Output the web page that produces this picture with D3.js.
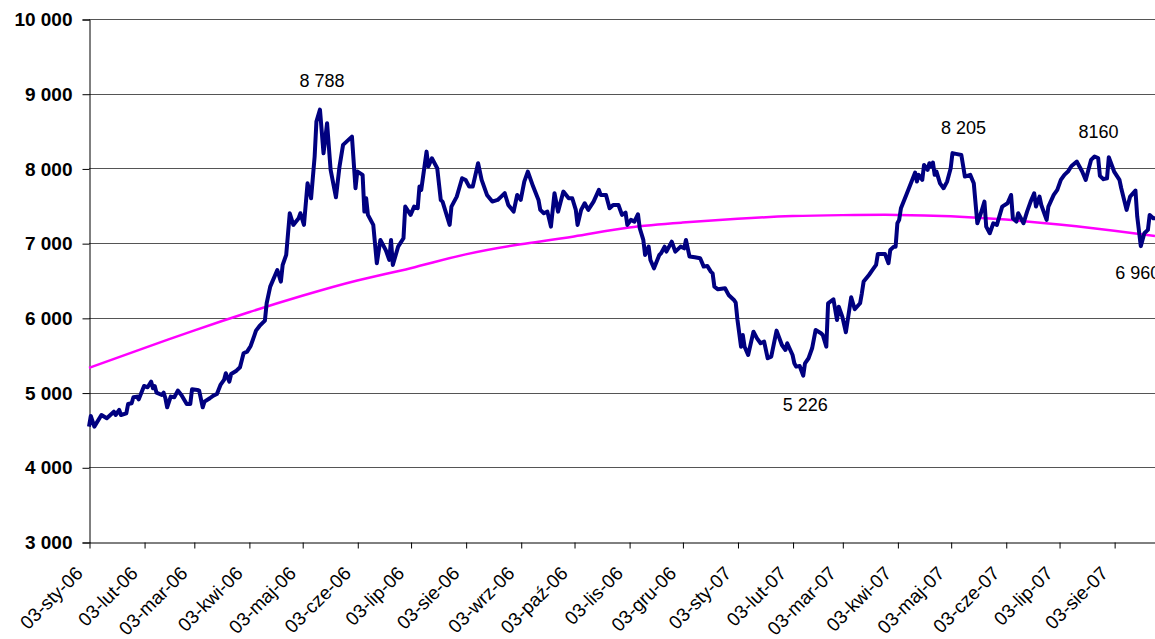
<!DOCTYPE html>
<html><head><meta charset="utf-8">
<script src="https://cdn.jsdelivr.net/npm/d3@7"></script>
<style>
html,body{margin:0;padding:0;background:#fff;}
svg{display:block;font-family:"Liberation Sans",Arial,sans-serif;}
</style></head>
<body>
<svg id="chart" width="1155" height="639"></svg>
<script>
// ---------- DATA ----------
const tickDates = ["2006-01-03","2006-02-03","2006-03-03","2006-04-03","2006-05-03","2006-06-03","2006-07-03","2006-08-03","2006-09-03","2006-10-03","2006-11-03","2006-12-03","2007-01-03","2007-02-03","2007-03-03","2007-04-03","2007-05-03","2007-06-03","2007-07-03","2007-08-03"];
const tickLabels = ["03-sty-06","03-lut-06","03-mar-06","03-kwi-06","03-maj-06","03-cze-06","03-lip-06","03-sie-06","03-wrz-06","03-paź-06","03-lis-06","03-gru-06","03-sty-07","03-lut-07","03-mar-07","03-kwi-07","03-maj-07","03-cze-07","03-lip-07","03-sie-07"];
const yTicks = [3000,4000,5000,6000,7000,8000,9000,10000];
const xDomain = ["2006-01-03","2007-08-26"];

const indexDates = ["2006-01-03","2006-01-04","2006-01-06","2006-01-10","2006-01-13","2006-01-17","2006-01-18","2006-01-20","2006-01-21","2006-01-24","2006-01-25","2006-01-27","2006-01-28","2006-01-30","2006-01-31",
"2006-02-03","2006-02-05","2006-02-07","2006-02-08","2006-02-09","2006-02-10","2006-02-13","2006-02-14","2006-02-15","2006-02-16","2006-02-18","2006-02-20","2006-02-22","2006-02-24","2006-02-27",
"2006-03-01","2006-03-02","2006-03-05","2006-03-06","2006-03-08","2006-03-09","2006-03-12","2006-03-14","2006-03-16","2006-03-18","2006-03-20","2006-03-21","2006-03-23","2006-03-24","2006-03-27","2006-03-29","2006-03-31",
"2006-04-02","2006-04-04","2006-04-06","2006-04-07","2006-04-09","2006-04-12","2006-04-13","2006-04-15","2006-04-19","2006-04-21","2006-04-22","2006-04-24","2006-04-26","2006-04-28",
"2006-05-01","2006-05-02","2006-05-04","2006-05-06","2006-05-08","2006-05-10","2006-05-11","2006-05-13","2006-05-15","2006-05-17","2006-05-19","2006-05-22","2006-05-24","2006-05-26","2006-05-31",
"2006-06-02","2006-06-03","2006-06-06","2006-06-07","2006-06-08","2006-06-09","2006-06-12","2006-06-14","2006-06-16","2006-06-19","2006-06-21","2006-06-22","2006-06-23","2006-06-26","2006-06-29","2006-06-30",
"2006-07-03","2006-07-05","2006-07-07","2006-07-08","2006-07-09","2006-07-12","2006-07-13","2006-07-15","2006-07-18","2006-07-20","2006-07-21","2006-07-25","2006-07-26","2006-07-29",
"2006-08-01","2006-08-03","2006-08-05","2006-08-07","2006-08-10","2006-08-12","2006-08-15","2006-08-18","2006-08-21","2006-08-23","2006-08-25","2006-08-27","2006-08-30",
"2006-09-01","2006-09-03","2006-09-05","2006-09-07","2006-09-10","2006-09-13","2006-09-14","2006-09-16","2006-09-18","2006-09-20","2006-09-22","2006-09-24","2006-09-27","2006-09-30",
"2006-10-02","2006-10-04","2006-10-05","2006-10-07","2006-10-09","2006-10-11","2006-10-14","2006-10-17","2006-10-18","2006-10-21","2006-10-23","2006-10-25","2006-10-28","2006-10-30",
"2006-11-01","2006-11-02","2006-11-04","2006-11-06","2006-11-08","2006-11-09","2006-11-11","2006-11-12","2006-11-14","2006-11-15","2006-11-17","2006-11-20","2006-11-21","2006-11-23","2006-11-24","2006-11-27","2006-11-29",
"2006-12-02","2006-12-04","2006-12-05","2006-12-07","2006-12-10","2006-12-13","2006-12-15","2006-12-17","2006-12-19","2006-12-20","2006-12-21","2006-12-23","2006-12-27","2006-12-29",
"2007-01-01","2007-01-02","2007-01-03","2007-01-05","2007-01-06","2007-01-07","2007-01-09","2007-01-12","2007-01-14","2007-01-16","2007-01-18","2007-01-20","2007-01-22","2007-01-25","2007-01-28","2007-01-30","2007-01-31",
"2007-02-03","2007-02-04","2007-02-05","2007-02-07","2007-02-09","2007-02-10","2007-02-12","2007-02-14","2007-02-16","2007-02-19","2007-02-20","2007-02-22","2007-02-23","2007-02-26","2007-02-28",
"2007-03-01","2007-03-03","2007-03-05","2007-03-08","2007-03-10","2007-03-13","2007-03-14","2007-03-15","2007-03-18","2007-03-20","2007-03-22","2007-03-23","2007-03-27","2007-03-29","2007-03-30",
"2007-04-01","2007-04-02","2007-04-03","2007-04-04","2007-04-05","2007-04-08","2007-04-11","2007-04-13","2007-04-14","2007-04-15","2007-04-17","2007-04-18","2007-04-20","2007-04-21","2007-04-22","2007-04-23","2007-04-24","2007-04-25","2007-04-27","2007-04-29",
"2007-05-01","2007-05-03","2007-05-04","2007-05-06","2007-05-09","2007-05-11","2007-05-14","2007-05-16","2007-05-18","2007-05-20","2007-05-22","2007-05-23","2007-05-25","2007-05-27","2007-05-29",
"2007-06-01","2007-06-04","2007-06-06","2007-06-07","2007-06-09","2007-06-10","2007-06-13","2007-06-15","2007-06-17","2007-06-19","2007-06-20","2007-06-22","2007-06-23","2007-06-26","2007-06-27","2007-06-30",
"2007-07-02","2007-07-04","2007-07-06","2007-07-08","2007-07-10","2007-07-13","2007-07-16","2007-07-18","2007-07-21","2007-07-23","2007-07-25","2007-07-26","2007-07-28","2007-07-30","2007-07-31",
"2007-08-03","2007-08-06","2007-08-07","2007-08-10","2007-08-12","2007-08-15","2007-08-16","2007-08-18","2007-08-20","2007-08-22","2007-08-23","2007-08-25","2007-08-26"];

const indexValues = [4544,4687,4544,4700,4656,4744,4700,4767,4700,4722,4847,4857,4937,4946,4910,
5088,5071,5146,5057,5088,4999,4968,4999,4924,4803,4946,4937,5026,4968,4847,
4847,5044,5035,5026,4803,4878,4924,4959,4981,5102,5169,5259,5146,5249,5293,5339,5526,
5548,5624,5758,5829,5892,5963,6195,6418,6641,6485,6708,6842,7400,7244,
7333,7400,7244,7801,7601,8158,8627,8788,8203,8605,7980,7614,8025,8315,8426,
7735,7958,7914,7422,7601,7378,7244,6731,7043,6909,6775,7043,6708,6953,7065,7489,
7378,7489,7467,7757,7713,8225,8025,8136,8002,7578,7556,7244,7489,7623,
7869,7846,7757,7757,8069,7846,7645,7556,7578,7623,7668,7511,7422,
7645,7578,7824,7958,7757,7578,7445,7400,7422,7221,7668,7422,7690,7601,
7601,7445,7244,7445,7534,7445,7556,7713,7645,7645,7467,7511,7511,7378,
7409,7244,7311,7288,7387,7199,7043,6842,6953,6775,6663,6842,6864,6953,6886,7020,6886,
6953,6931,7043,6820,6811,6798,6686,6695,6619,6596,6418,6382,6396,6307,
6240,6204,5972,5614,5771,5614,5503,5815,5726,5660,5682,5459,5481,5829,5637,5570,5660,
5503,5392,5347,5356,5226,5392,5459,5593,5838,5794,5771,5614,6195,6249,5972,
6150,6016,5807,6276,6115,6195,6329,6485,6574,6641,6708,6856,6856,6731,6909,
6953,6953,7266,7311,7467,7645,7824,7945,7824,7914,7846,8047,7980,8069,8025,8078,7914,7958,7801,7735,
7824,8002,8205,8195,8180,7891,7914,7801,7266,7400,7556,7221,7132,7266,7244,
7489,7534,7645,7333,7288,7400,7266,7422,7556,7668,7489,7623,7511,7311,7489,7645,
7713,7846,7914,7958,8033,8091,7958,7846,8114,8160,8140,7900,7856,7869,8150,
7958,7846,7735,7445,7623,7704,7356,6960,7132,7177,7378,7333,7333];

const trendDates = ["2006-01-03","2006-02-03","2006-03-03","2006-04-03","2006-05-03","2006-06-03","2006-07-03","2006-08-03","2006-09-03","2006-10-03","2006-11-03","2006-12-03","2007-01-03","2007-02-03","2007-03-03","2007-04-03","2007-05-03","2007-06-03","2007-07-03","2007-08-03","2007-08-26"];
const trendValues = [5330,5595,5830,6075,6295,6500,6665,6850,6985,7090,7210,7275,7325,7362,7375,7378,7360,7315,7250,7165,7096];

const annoDates = ["2006-05-13","2007-05-04","2007-07-23","2007-02-09","2007-08-18"];
const annoValues = [8788,8205,8160,5226,6960];
const annoLabels = ["8 788","8 205","8160","5 226","6 960"];

// ---------- DRAW ----------
(function () {
const parse = d3.timeParse("%Y-%m-%d");
const svg = d3.select("#chart");
const mLeft = 89, mRight = 1155, mTop = 19, mBottom = 542;

const x = d3.scaleTime().domain(xDomain.map(parse)).range([mLeft, mRight]);
const y = d3.scaleLinear().domain([3000, 10000]).range([mBottom, mTop]);

const locale = d3.formatLocale({decimal: ",", thousands: " ", grouping: [3], currency: ["", ""]});
const fmt = locale.format(",d");

svg.append("rect").attr("width", 1155).attr("height", 639).attr("fill", "#fff");

// gridlines
svg.append("g").selectAll("line").data(yTicks.filter(v => v > 3000)).join("line")
  .attr("x1", mLeft).attr("x2", mRight)
  .attr("y1", d => Math.round(y(d)) + 0.5).attr("y2", d => Math.round(y(d)) + 0.5)
  .attr("stroke", "#555").attr("stroke-width", 1);

// y axis
const yAxis = d3.axisLeft(y).tickValues(yTicks).tickFormat(fmt).tickSize(7).tickPadding(10);
const gy = svg.append("g").attr("transform", `translate(${mLeft + 0.5},0.5)`).call(yAxis);
gy.select(".domain").attr("stroke", "#000");
gy.selectAll(".tick line").attr("stroke", "#000");
gy.selectAll("text").attr("font-size", 19).attr("font-weight", "bold").attr("fill", "#000")
  .attr("font-family", "'Liberation Sans', Arial, sans-serif");

// x axis
const xAxis = d3.axisBottom(x).tickValues(tickDates.map(parse))
  .tickFormat((d, i) => tickLabels[i]).tickSize(6).tickSizeOuter(0);
const gx = svg.append("g").attr("transform", `translate(0.5,${mBottom + 0.5})`).call(xAxis);
gx.select(".domain").attr("stroke", "#000");
gx.selectAll(".tick line").attr("stroke", "#000");
gx.selectAll("text")
  .attr("font-size", 19).attr("fill", "#000")
  .attr("font-family", "'Liberation Sans', Arial, sans-serif")
  .attr("text-anchor", "end")
  .attr("dy", null).attr("y", null)
  .attr("transform", "translate(-6,32) rotate(-45)");

// trend line
const trend = trendDates.map((d, i) => ({date: parse(d), value: trendValues[i]}));
svg.append("path").datum(trend)
  .attr("fill", "none").attr("stroke", "#FF00FF").attr("stroke-width", 2.5)
  .attr("d", d3.line().x(d => x(d.date)).y(d => y(d.value)).curve(d3.curveNatural));

// index line
const series = indexDates.map((d, i) => ({date: parse(d), value: indexValues[i]}));
svg.append("path").datum(series)
  .attr("fill", "none").attr("stroke", "#000080").attr("stroke-width", 4)
  .attr("stroke-linejoin", "round")
  .attr("d", d3.line().x(d => x(d.date)).y(d => y(d.value)));

// annotations
const annoOffsets = [[2,-23],[11,-19],[4,-18],[2,35],[-3,33]];
svg.append("g").selectAll("text").data(annoDates).join("text")
  .attr("x", (d, i) => x(parse(d)) + annoOffsets[i][0])
  .attr("y", (d, i) => y(annoValues[i]) + annoOffsets[i][1])
  .attr("text-anchor", "middle")
  .attr("font-size", 18).attr("fill", "#000")
  .text((d, i) => annoLabels[i]);
})();
</script>
</body></html>
